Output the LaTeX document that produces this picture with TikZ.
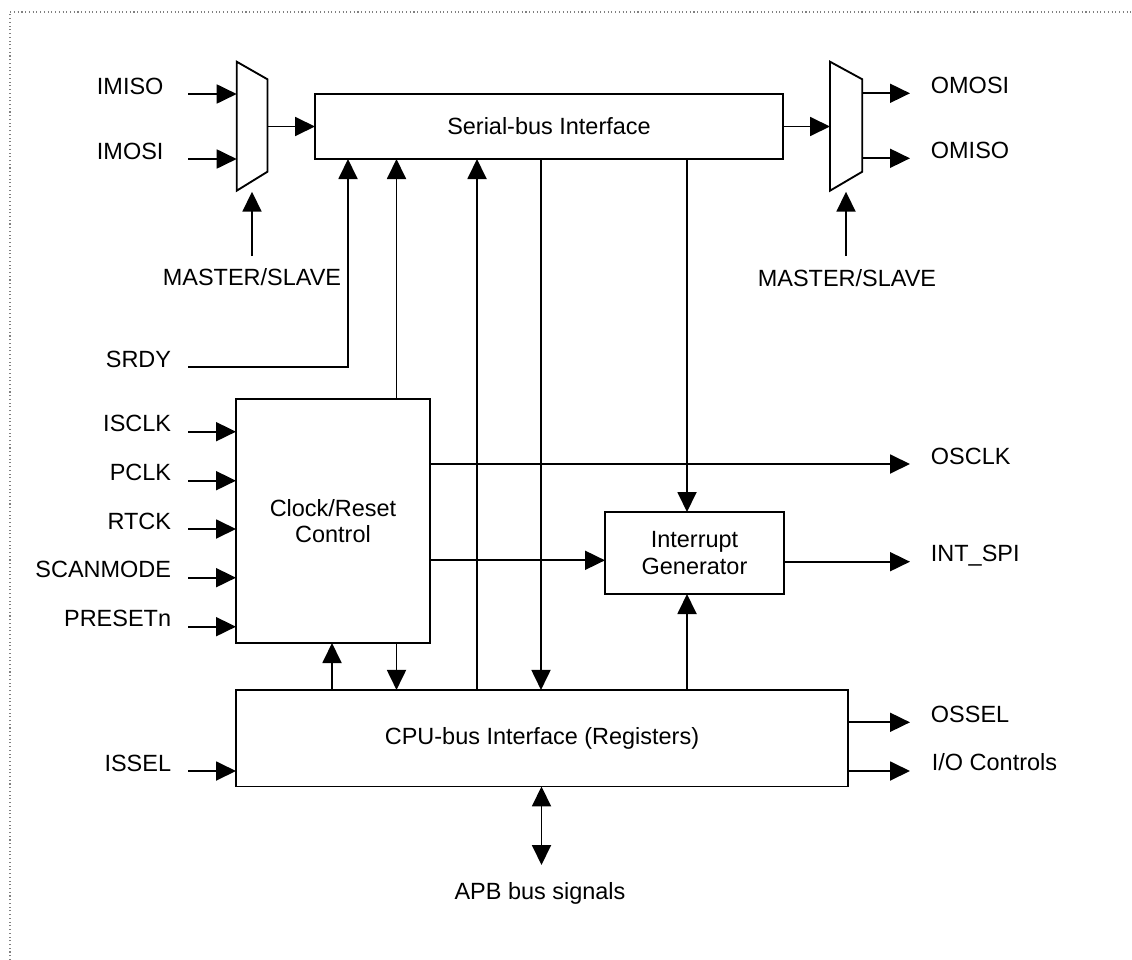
\documentclass[tikz,border=0pt]{standalone}
\usepackage{fontspec}
\setmainfont{Liberation Sans}
\usetikzlibrary{arrows.meta}
\begin{document}
\begin{tikzpicture}[x=0.75pt,y=-0.75pt,
  line width=1.4pt,
  every node/.style={font=\fontsize{17.6pt}{20pt}\selectfont},
  arr/.style={-{Triangle[length=15pt,width=14.25pt]}},
  darr/.style={{Triangle[length=15pt,width=14.25pt]}-{Triangle[length=15pt,width=14.25pt]}},
  box/.style={draw, inner sep=0pt, outer sep=0pt, align=center},
  lbl/.style={inner sep=0pt}]
\useasboundingbox (0,0) rectangle (1132,960);
\draw[gray, line width=0.8pt, dotted] (10,960) -- (10,12) -- (1132,12);

% boxes
\node[box, minimum width=351pt, minimum height=48.75pt] (ser) at (549,126.5) {Serial-bus Interface};
\node[box, minimum width=145.5pt, minimum height=183pt] (clk) at (333,521) {Clock/Reset\\Control};
\node[box, minimum width=134.25pt, minimum height=61.5pt] (intg) at (694.5,553) {Interrupt\\Generator};
\node[box, minimum width=459pt, minimum height=72.4pt] (cpu) at (542,738.2) {CPU-bus Interface (Registers)};

% muxes
\coordinate (m1a) at (236.7,61.7); \coordinate (m1b) at (267.5,79.3);
\coordinate (m1c) at (267.5,171.7); \coordinate (m1d) at (236.7,190.7);
\draw (m1a) -- (m1b) -- (m1c) -- (m1d) -- cycle;
\coordinate (m2a) at (830,61.7); \coordinate (m2b) at (862.3,79.3);
\coordinate (m2c) at (862.3,171.7); \coordinate (m2d) at (830,190.7);
\draw (m2a) -- (m2b) -- (m2c) -- (m2d) -- cycle;

% left labels and inputs
\node[lbl, anchor=base west] (tIMISO) at (96,94) {IMISO};
\node[lbl, anchor=base west] (tIMOSI) at (96,159) {IMOSI};
\coordinate (sIMISO) at (188,94);
\coordinate (sIMOSI) at (188,159);
\draw[arr] (sIMISO) -- (sIMISO -| m1a);
\draw[arr] (sIMOSI) -- (sIMOSI -| m1a);
\coordinate (m1out) at (267.5,126.5);
\draw[arr] (m1out) -- (ser.west);

\node[lbl, anchor=base] (tMS1) at (252,285.5) {MASTER/SLAVE};
\coordinate (sMS1) at (252,256);
\coordinate (eMS1) at (252,191.7);
\draw[arr] (sMS1) -- (eMS1);

% right mux
\coordinate (m2in) at (830,126.5);
\draw[arr] (ser.east) -- (m2in);
\coordinate (eOMOSI) at (910,93.3);
\coordinate (eOMISO) at (910,158.3);
\draw[arr] (eOMOSI -| m2b) -- (eOMOSI);
\draw[arr] (eOMISO -| m2b) -- (eOMISO);
\node[lbl, anchor=base west] (tOMOSI) at (930,93.3) {OMOSI};
\node[lbl, anchor=base west] (tOMISO) at (930,158.3) {OMISO};
\node[lbl, anchor=base] (tMS2) at (847,286) {MASTER/SLAVE};
\coordinate (sMS2) at (846,256);
\coordinate (eMS2) at (846,191.7);
\draw[arr] (sMS2) -- (eMS2);

% SRDY
\node[lbl, anchor=base east] (tSRDY) at (172,367) {SRDY};
\coordinate (sSRDY) at (188,367);
\coordinate (xSRDY) at (348,0);
\draw[arr] (sSRDY) -| (xSRDY |- ser.south);

% vertical buses
\coordinate (x332) at (332,0);
\coordinate (x396) at (396.5,0);
\coordinate (x477) at (477,0);
\coordinate (x541) at (541,0);
\coordinate (x687) at (687,0);
\draw[arr] (x396 |- clk.north) -- (x396 |- ser.south);
\draw[arr] (x477 |- cpu.north) -- (x477 |- ser.south);
\draw[arr] (x541 |- ser.south) -- (x541 |- cpu.north);
\draw[arr] (x687 |- ser.south) -- (x687 |- intg.north);
\draw[arr] (x687 |- cpu.north) -- (x687 |- intg.south);
\draw[arr] (x332 |- cpu.north) -- (x332 |- clk.south);
\draw[arr] (x396 |- clk.south) -- (x396 |- cpu.north);

% clock inputs
\foreach \y/\t/\n in {431.7/ISCLK/a, 480.7/PCLK/b, 529/RTCK/c, 577.7/SCANMODE/d, 626.7/PRESETn/e}{
  \node[lbl, anchor=base east] (t\n) at (172,\y) {\t};
  \coordinate (s\n) at (188,\y);
  \draw[arr] (s\n) -- (s\n -| clk.west);
}

% clock outputs
\coordinate (eOSCLK) at (910,464);
\draw[arr] (eOSCLK -| clk.east) -- (eOSCLK);
\node[lbl, anchor=base west] (tOSCLK) at (930,464) {OSCLK};
\coordinate (yInt) at (0,560.3);
\draw[arr] (yInt -| clk.east) -- (yInt -| intg.west);

% interrupt output
\coordinate (eINT) at (910,561.7);
\draw[arr] (eINT -| intg.east) -- (eINT);
\node[lbl, anchor=base west] (tINT) at (930,561.7) {INT\_SPI};

% CPU I/O
\node[lbl, anchor=base east] (tISSEL) at (172,771) {ISSEL};
\coordinate (sISSEL) at (188,771);
\draw[arr] (sISSEL) -- (sISSEL -| cpu.west);
\coordinate (eOSSEL) at (910,722.3);
\coordinate (eIO) at (910,771);
\draw[arr] (eOSSEL -| cpu.east) -- (eOSSEL);
\draw[arr] (eIO -| cpu.east) -- (eIO);
\node[lbl, anchor=base west] (tOSSEL) at (930,722.3) {OSSEL};
\node[lbl, anchor=base west] (tIO) at (931,770) {I/O Controls};

% APB
\coordinate (eAPB) at (541.5,865);
\draw[darr] (eAPB |- cpu.south) -- (eAPB);
\node[lbl, anchor=base] (tAPB) at (540,899) {APB bus signals};
\end{tikzpicture}
\end{document}
